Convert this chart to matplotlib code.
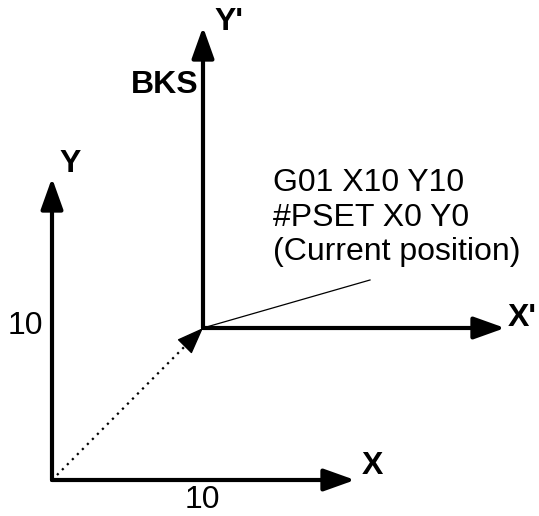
import matplotlib.pyplot as plt

plt.rcParams['font.family'] = ['Liberation Sans', 'DejaVu Sans']

# -----------------------------
# diagram geometry (pixel coordinates, y grows downward)
# -----------------------------
W, H = 539, 516

origin = (52, 480)          # machine origin
x_tip = (355, 480)
y_tip = (52, 178)

origin2 = (203, 328)        # shifted origin (#PSET)
x2_tip = (505, 328)
y2_tip = (203, 27)

dot_start = (57, 475)
leader_end = (370, 280)

# labels: (text, x, y, bold)
labels = [
    ("X", 372, 466, True),
    ("Y", 70, 164, True),
    ("X'", 522, 318, True),
    ("Y'", 229, 22, True),
    ("BKS", 165, 85, True),
    ("10", 25, 326, False),
    ("10", 202, 500, False),
]
note_lines = ["G01 X10 Y10", "#PSET X0 Y0", "(Current position)"]
note_pos = (273, 168)

fig = plt.figure(figsize=(W / 100, H / 100), dpi=100)
ax = fig.add_axes([0, 0, 1, 1])
ax.set_xlim(0, W)
ax.set_ylim(H, 0)
ax.axis("off")

head = dict(arrowstyle="-|>,head_length=19,head_width=6.8", mutation_scale=1,
            color="black", lw=3, shrinkA=0, shrinkB=0)

# main and shifted axes
for start, tip in [(origin, x_tip), (origin, y_tip), (origin2, x2_tip), (origin2, y2_tip)]:
    ax.annotate("", xy=tip, xytext=start, arrowprops=head)

# dotted shift vector, head drawn separately so the line stays dotted
ax.plot([dot_start[0], origin2[0]], [dot_start[1], origin2[1]], color="black",
        lw=1.6, ls=(0, (1, 2.2)))
head_from = (origin2[0] - 0.12 * (origin2[0] - dot_start[0]),
             origin2[1] - 0.12 * (origin2[1] - dot_start[1]))
ax.annotate("", xy=origin2, xytext=head_from,
            arrowprops=dict(arrowstyle="-|>,head_length=17,head_width=6.5",
                            mutation_scale=1, color="black", lw=1,
                            shrinkA=0, shrinkB=0))

# leader line to note
ax.plot([origin2[0], leader_end[0]], [origin2[1], leader_end[1]], color="black", lw=0.9)

for text, x, y, bold in labels:
    ax.text(x, y, text, fontsize=23, ha="center", va="center",
            fontweight="bold" if bold else "normal")

ax.text(note_pos[0], note_pos[1], "\n".join(note_lines), fontsize=23,
        ha="left", va="top", linespacing=1.2)

fig.savefig("out.png", dpi=100)
